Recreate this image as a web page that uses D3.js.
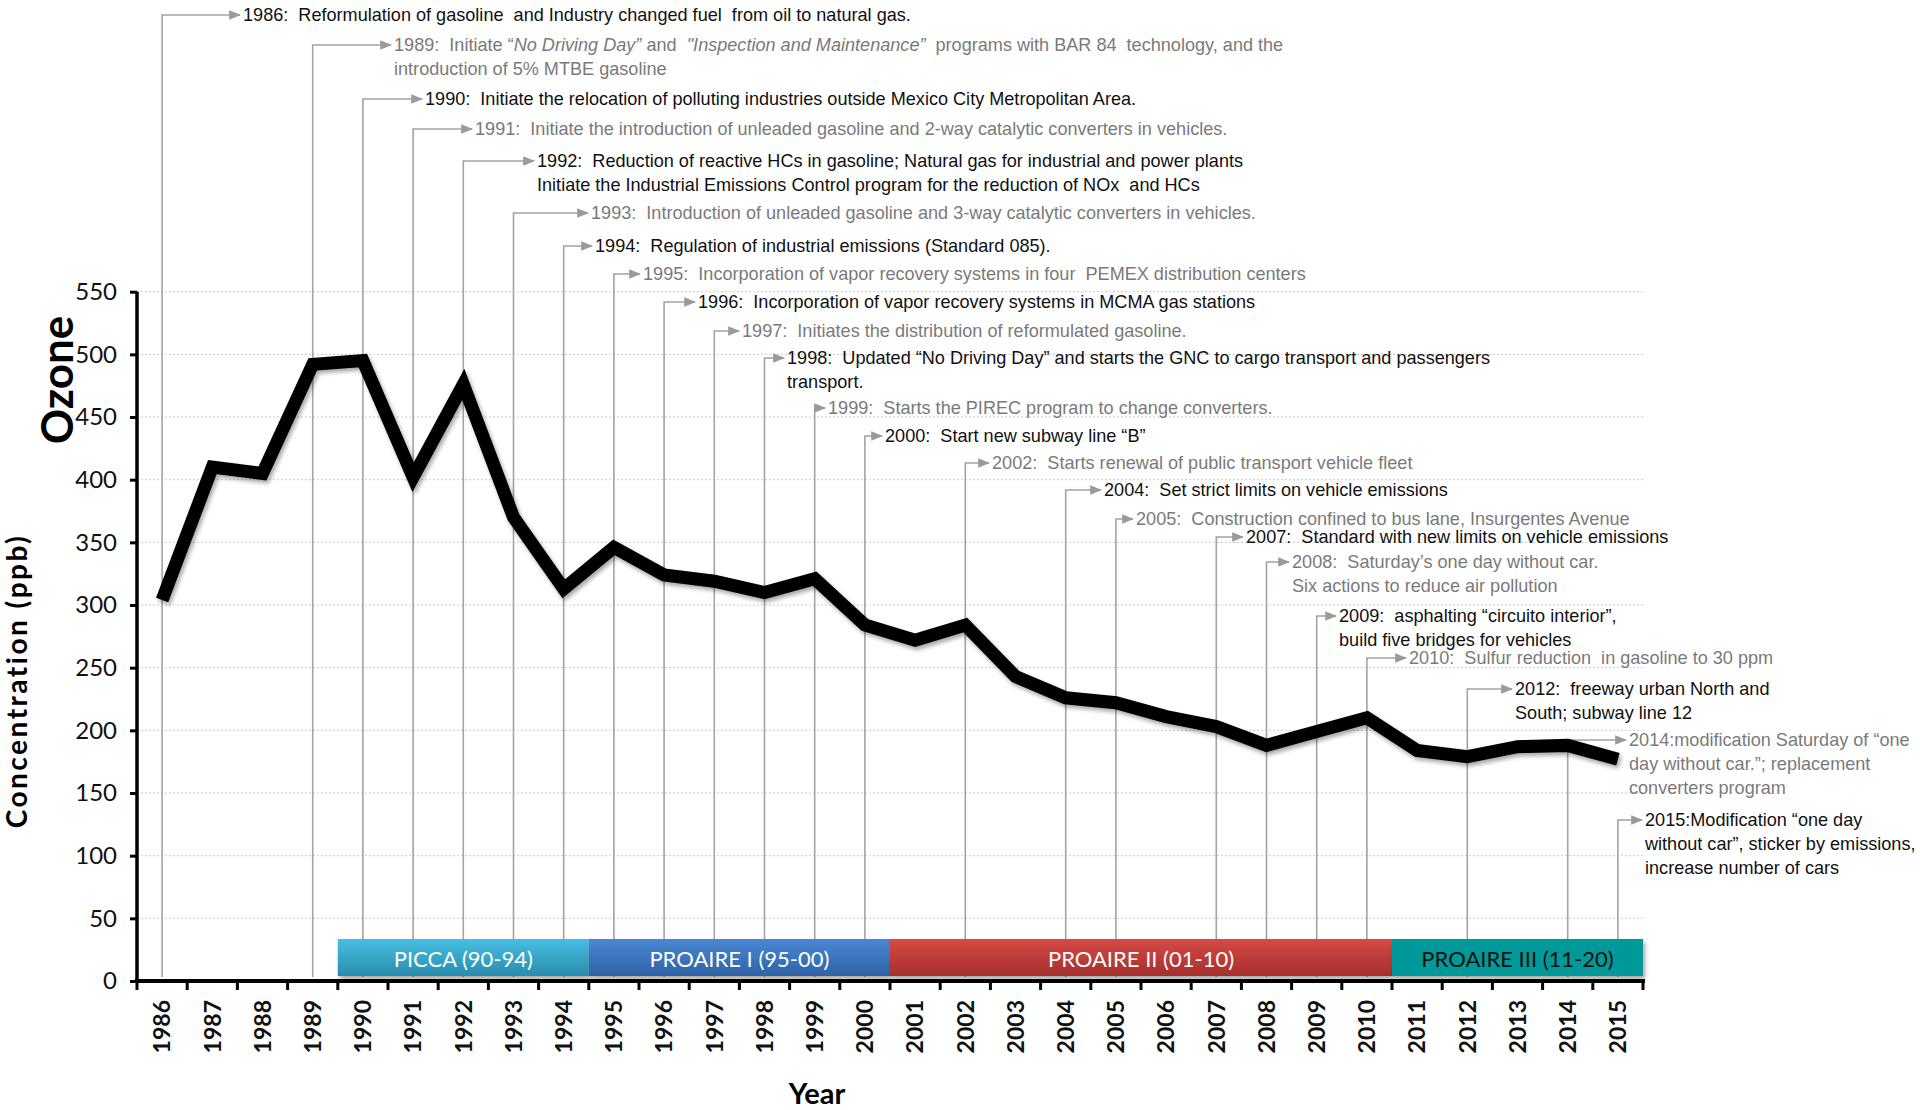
<!DOCTYPE html>
<html>
<head>
<meta charset="utf-8">
<script src="https://d3js.org/d3.v7.min.js"></script>
<style>
  body { margin: 0; background: #fff; }
  .note { font-family: "Liberation Sans Narrow", "Arial Narrow", sans-serif; font-size: 18.1px; white-space: pre; }
</style>
</head>
<body>
<div id="chart"></div>
<script>
// ozone peak concentration by year (ppb)
const years = [1986, 1987, 1988, 1989, 1990, 1991, 1992, 1993, 1994, 1995,
               1996, 1997, 1998, 1999, 2000, 2001, 2002, 2003, 2004, 2005,
               2006, 2007, 2008, 2009, 2010, 2011, 2012, 2013, 2014, 2015];
const ozone = [304, 410, 405, 492, 495, 402, 476, 370, 313, 346,
               324, 319, 310, 321, 284, 272, 284, 243, 226, 222,
               211, 203, 188, 199, 210, 184, 179, 187, 188, 177];
const yTicks = [0, 50, 100, 150, 200, 250, 300, 350, 400, 450, 500, 550];

// air quality programs
const programNames = ["PICCA (90-94)", "PROAIRE I (95-00)", "PROAIRE II (01-10)", "PROAIRE III (11-20)"];
const programStart = [1990, 1995, 2001, 2011];
const programEnd = [1994, 2000, 2010, 2015];

// policy events (text between * * is italic)
const eventYears = [1986, 1989, 1990, 1991, 1992, 1993, 1994, 1995, 1996, 1997, 1998, 1999,
                    2000, 2002, 2004, 2005, 2007, 2008, 2009, 2010, 2012, 2014, 2015];
const eventText = [
  ["1986:  Reformulation of gasoline  and Industry changed fuel  from oil to natural gas."],
  ["1989:  Initiate “*No Driving Day”* and  *\"Inspection and Maintenance”*  programs with BAR 84  technology, and the",
   "introduction of 5% MTBE gasoline"],
  ["1990:  Initiate the relocation of polluting industries outside Mexico City Metropolitan Area."],
  ["1991:  Initiate the introduction of unleaded gasoline and 2-way catalytic converters in vehicles."],
  ["1992:  Reduction of reactive HCs in gasoline; Natural gas for industrial and power plants",
   "Initiate the Industrial Emissions Control program for the reduction of NOx  and HCs"],
  ["1993:  Introduction of unleaded gasoline and 3-way catalytic converters in vehicles."],
  ["1994:  Regulation of industrial emissions (Standard 085)."],
  ["1995:  Incorporation of vapor recovery systems in four  PEMEX distribution centers"],
  ["1996:  Incorporation of vapor recovery systems in MCMA gas stations"],
  ["1997:  Initiates the distribution of reformulated gasoline."],
  ["1998:  Updated “No Driving Day” and starts the GNC to cargo transport and passengers",
   "transport."],
  ["1999:  Starts the PIREC program to change converters."],
  ["2000:  Start new subway line “B”"],
  ["2002:  Starts renewal of public transport vehicle fleet"],
  ["2004:  Set strict limits on vehicle emissions"],
  ["2005:  Construction confined to bus lane, Insurgentes Avenue"],
  ["2007:  Standard with new limits on vehicle emissions"],
  ["2008:  Saturday’s one day without car.", "Six actions to reduce air pollution"],
  ["2009:  asphalting “circuito interior”,", "build five bridges for vehicles"],
  ["2010:  Sulfur reduction  in gasoline to 30 ppm"],
  ["2012:  freeway urban North and", "South; subway line 12"],
  ["2014:modification Saturday of “one", "day without car.”; replacement", "converters program"],
  ["2015:Modification “one day", "without car”, sticker by emissions,", "increase number of cars"]
];

// callout layout: text left edge and arrow height
const calloutX = [243, 394, 425, 475, 537, 591, 595, 643, 698, 742, 787, 828,
                  885, 992, 1104, 1136, 1246, 1292, 1339, 1409, 1515, 1629, 1645];
const calloutY = [15, 45, 99, 129, 161, 213, 246, 274, 302, 331, 358, 408,
                  436, 463, 490, 519, 537, 562, 616, 658, 689, 740, 820];

const programTop = ["#46bfe2", "#4a88d3", "#d64a46", "#009999"];
const programBottom = ["#2a8cad", "#2e62a6", "#a52f2c", "#009999"];
const programInk = ["#fff", "#fff", "#fff", "#111"];
const noteInk = ["#111", "#7a7a7a"];

const width = 1920, height = 1110;
const svg = d3.select("#chart").append("svg")
    .attr("width", width).attr("height", height);

const defs = svg.append("defs");
const shadow = defs.append("filter").attr("id", "shadow")
    .attr("x", "-5%").attr("y", "-5%").attr("width", "110%").attr("height", "120%");
shadow.append("feDropShadow").attr("dx", 2).attr("dy", 3)
    .attr("stdDeviation", 2).attr("flood-color", "#000").attr("flood-opacity", 0.35);

programNames.forEach((p, i) => {
  const g = defs.append("linearGradient").attr("id", "prog" + i)
      .attr("x1", 0).attr("y1", 0).attr("x2", 0).attr("y2", 1);
  g.append("stop").attr("offset", "0%").attr("stop-color", programTop[i]);
  g.append("stop").attr("offset", "100%").attr("stop-color", programBottom[i]);
});

const arrow = defs.append("marker").attr("id", "arrow")
    .attr("viewBox", "0 0 10 10").attr("refX", 9).attr("refY", 5)
    .attr("markerWidth", 12).attr("markerHeight", 12)
    .attr("markerUnits", "userSpaceOnUse").attr("orient", "auto");
arrow.append("path").attr("d", "M0,1 L10,5 L0,9 Z").attr("fill", "#9a9a9a");

const x = d3.scaleBand().domain(years).range([137, 1643]).padding(0);
const y = d3.scaleLinear().domain([0, 550]).range([981, 291.7]);
const bw = x.bandwidth();
const cx = d => x(d) + bw / 2;

// grid
svg.append("g").selectAll("line")
  .data(yTicks.filter(d => d > 0))
  .join("line")
    .attr("x1", 137).attr("x2", 1643)
    .attr("y1", d => y(d)).attr("y2", d => y(d))
    .attr("stroke", "#c9c9c9").attr("stroke-width", 1)
    .attr("stroke-dasharray", "2,2");

// callouts
const notes = svg.append("g");
eventYears.forEach((yr, i) => {
  const lx = cx(yr), ay = calloutY[i], tx = calloutX[i];
  notes.append("path")
    .attr("d", `M${lx},977 L${lx},${ay} L${tx - 3},${ay}`)
    .attr("fill", "none").attr("stroke", "#a3a3a3").attr("stroke-width", 1.6)
    .attr("marker-end", "url(#arrow)");
  const t = notes.append("text").attr("class", "note")
      .attr("x", tx).attr("y", ay).attr("fill", noteInk[i % 2]);
  eventText[i].forEach((line, j) => {
    const ln = t.append("tspan").attr("x", tx).attr("y", ay + j * 24)
        .attr("dominant-baseline", "central");
    line.split("*").forEach((part, k) => {
      ln.append("tspan").text(part).attr("font-style", k % 2 ? "italic" : null);
    });
  });
});

// program bars
const bars = svg.append("g");
programNames.forEach((p, i) => {
  const x0 = x(programStart[i]), x1 = x(programEnd[i]) + bw;
  bars.append("rect")
    .attr("x", x0).attr("y", 939).attr("width", x1 - x0).attr("height", 37)
    .attr("fill", `url(#prog${i})`).attr("filter", "url(#shadow)");
  bars.append("text")
    .attr("x", (x0 + x1) / 2).attr("y", 958)
    .attr("text-anchor", "middle").attr("dominant-baseline", "central")
    .attr("font-family", "Lato, sans-serif").attr("font-size", 22)
    .attr("fill", programInk[i]).text(p);
});

// ozone line
svg.append("path")
  .datum(ozone)
  .attr("d", d3.line().x((d, i) => cx(years[i])).y(d => y(d)))
  .attr("fill", "none").attr("stroke", "#000").attr("stroke-width", 13)
  .attr("stroke-linejoin", "miter").attr("filter", "url(#shadow)");

// axes
const yAxis = svg.append("g").attr("transform", "translate(137,0)")
  .call(d3.axisLeft(y).tickValues(yTicks).tickSize(7).tickSizeOuter(0).tickPadding(13));
yAxis.select(".domain").attr("stroke-width", 3.5).attr("d", `M0,${y(550)}V${y(0) + 2}`);
yAxis.selectAll(".tick line").attr("stroke-width", 3);
yAxis.selectAll("text").attr("font-family", "Lato, sans-serif").attr("font-size", 24).attr("fill", "#111");

const xAxis = svg.append("g").attr("transform", "translate(0,981)")
  .call(d3.axisBottom(x).tickSize(0).tickSizeOuter(0));
xAxis.select(".domain").attr("stroke-width", 4).attr("d", "M135,0H1645");
xAxis.selectAll("text")
  .attr("transform", "rotate(-90)").attr("x", -19).attr("y", 0).attr("dy", "0.36em")
  .style("text-anchor", "end")
  .attr("font-family", "Lato, sans-serif").attr("font-size", 23).attr("font-weight", 700)
  .attr("fill", "#111");
xAxis.append("g").selectAll("line")
  .data(years.concat([null]))
  .join("line")
    .attr("x1", d => d === null ? 1643 : x(d)).attr("x2", d => d === null ? 1643 : x(d))
    .attr("y1", 0).attr("y2", 9)
    .attr("stroke", "#000").attr("stroke-width", 3);

// titles
svg.append("text")
  .attr("transform", "translate(56,380) rotate(-90)")
  .attr("text-anchor", "middle").attr("dominant-baseline", "central")
  .attr("font-family", "Lato, sans-serif").attr("font-weight", 700).attr("font-size", 44)
  .text("Ozone");
svg.append("text")
  .attr("transform", "translate(16,681) rotate(-90)")
  .attr("text-anchor", "middle").attr("dominant-baseline", "central")
  .attr("font-family", "Lato, sans-serif").attr("font-weight", 700).attr("font-size", 28)
  .attr("letter-spacing", 2.5)
  .text("Concentration (ppb)");
svg.append("text")
  .attr("x", 817).attr("y", 1104)
  .attr("text-anchor", "middle")
  .attr("font-family", "Lato, sans-serif").attr("font-weight", 700).attr("font-size", 29)
  .text("Year");
</script>
</body>
</html>
